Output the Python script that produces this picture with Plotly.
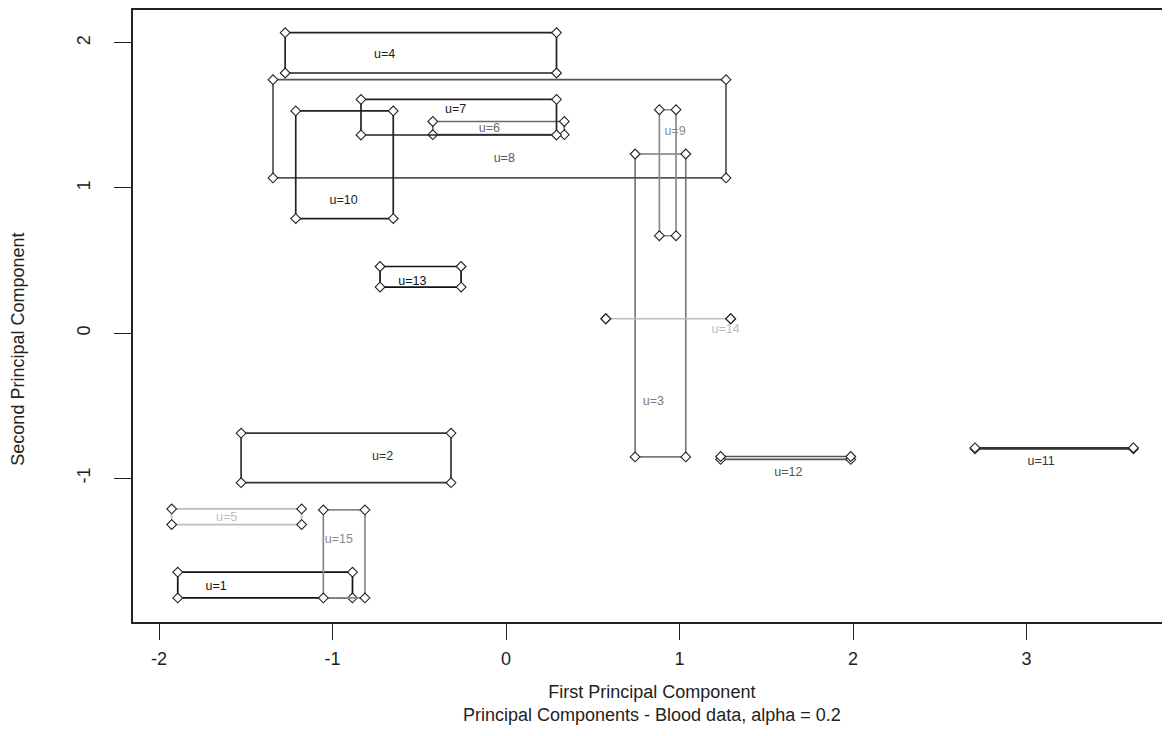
import plotly.graph_objects as go

# cluster labels and rectangle bounds (first / second principal component)
clusters = ["u=1", "u=2", "u=3", "u=4", "u=5", "u=6", "u=7", "u=8",
            "u=9", "u=10", "u=11", "u=12", "u=13", "u=14", "u=15"]
x_low  = [-1.892, -1.527, 0.744, -1.273, -1.927, -0.422, -0.836, -1.343,
          0.884, -1.212, 2.703, 1.237, -0.726, 0.575, -1.053]
x_high = [-0.885, -0.317, 1.036, 0.291, -1.178, 0.336, 0.291, 1.268,
          0.980, -0.650, 3.616, 1.987, -0.259, 1.295, -0.813]
y_low  = [-1.824, -1.030, -0.853, 1.792, -1.319, 1.367, 1.365, 1.069,
          0.671, 0.789, -0.797, -0.870, 0.317, 0.099, -1.824]
y_high = [-1.647, -0.689, 1.234, 2.070, -1.211, 1.458, 1.610, 1.746,
          1.539, 1.531, -0.790, -0.850, 0.459, 0.099, -1.218]
label_x = [-1.671, -0.711, 0.849, -0.700, -1.610, -0.096, -0.290, -0.010,
           0.974, -0.936, 3.084, 1.627, -0.540, 1.266, -0.963]
label_y = [-1.746, -0.850, -0.473, 1.919, -1.275, 1.410, 1.539, 1.203,
           1.385, 0.910, -0.889, -0.961, 0.356, 0.023, -1.427]
colors = ["#111111", "#333333", "#7a7a7a", "#222222", "#bdbdbd", "#6a6a6a",
          "#222222", "#555555", "#8a8a8a", "#222222", "#333333", "#555555",
          "#111111", "#bdbdbd", "#8a8a8a"]

x_ticks = [-2, -1, 0, 1, 2, 3]
y_ticks = [-1, 0, 1, 2]
x_title = "First Principal Component"
sub_title = "Principal Components - Blood data, alpha = 0.2"
y_title = "Second Principal Component"

fig = go.Figure()
for i, name in enumerate(clusters):
    x0, x1, y0, y1 = x_low[i], x_high[i], y_low[i], y_high[i]
    fig.add_trace(go.Scatter(
        x=[x0, x1, x1, x0, x0], y=[y0, y0, y1, y1, y0],
        mode="lines", line=dict(color=colors[i], width=1.7),
        hoverinfo="skip", showlegend=False))
    fig.add_trace(go.Scatter(
        x=[x0, x1, x1, x0], y=[y0, y0, y1, y1],
        mode="markers",
        marker=dict(symbol="diamond", size=7.5, color="white",
                    line=dict(color="#222222", width=1.1)),
        hoverinfo="skip", showlegend=False))

fig.add_trace(go.Scatter(
    x=label_x, y=label_y, text=clusters, mode="text",
    textfont=dict(family="Liberation Sans, Arial, sans-serif", size=12.5, color=colors),
    hoverinfo="skip", showlegend=False))

axis_font = dict(family="Liberation Sans Narrow, Liberation Sans, Arial, sans-serif",
                 size=18, color="#222222")

# page body adds an 8px offset, so the figure is sized to end at the window edge
fig.update_layout(
    width=1162, height=728,
    margin=dict(l=125, r=0, t=2, b=114),
    plot_bgcolor="white", paper_bgcolor="white",
    xaxis=dict(range=[-2.150, 3.827], tickvals=x_ticks,
               ticktext=[str(v) for v in x_ticks],
               showgrid=False, zeroline=False,
               showline=True, linecolor="#222222", linewidth=2, mirror=True,
               ticks="outside", ticklen=16, tickwidth=1.3, tickcolor="#222222",
               ticklabelstandoff=3, tickfont=axis_font),
    yaxis=dict(range=[-1.990, 2.226], tickvals=y_ticks,
               ticktext=[str(v) for v in y_ticks],
               showgrid=False, zeroline=False,
               showline=True, linecolor="#222222", linewidth=2, mirror=False,
               ticks="outside", ticklen=17, tickwidth=1.3, tickcolor="#222222",
               tickangle=-90, ticklabelstandoff=17, tickfont=axis_font),
    annotations=[
        dict(text=x_title + "<br>" + sub_title, xref="paper", yref="paper",
             x=0.5, y=0, xanchor="center", yanchor="top", yshift=-58,
             showarrow=False, font=axis_font),
        dict(text=y_title, xref="paper", yref="paper",
             x=0, y=0.445, xanchor="center", yanchor="middle", xshift=-115,
             textangle=-90, showarrow=False, font=axis_font),
    ],
)

fig.write_html("out.html")
